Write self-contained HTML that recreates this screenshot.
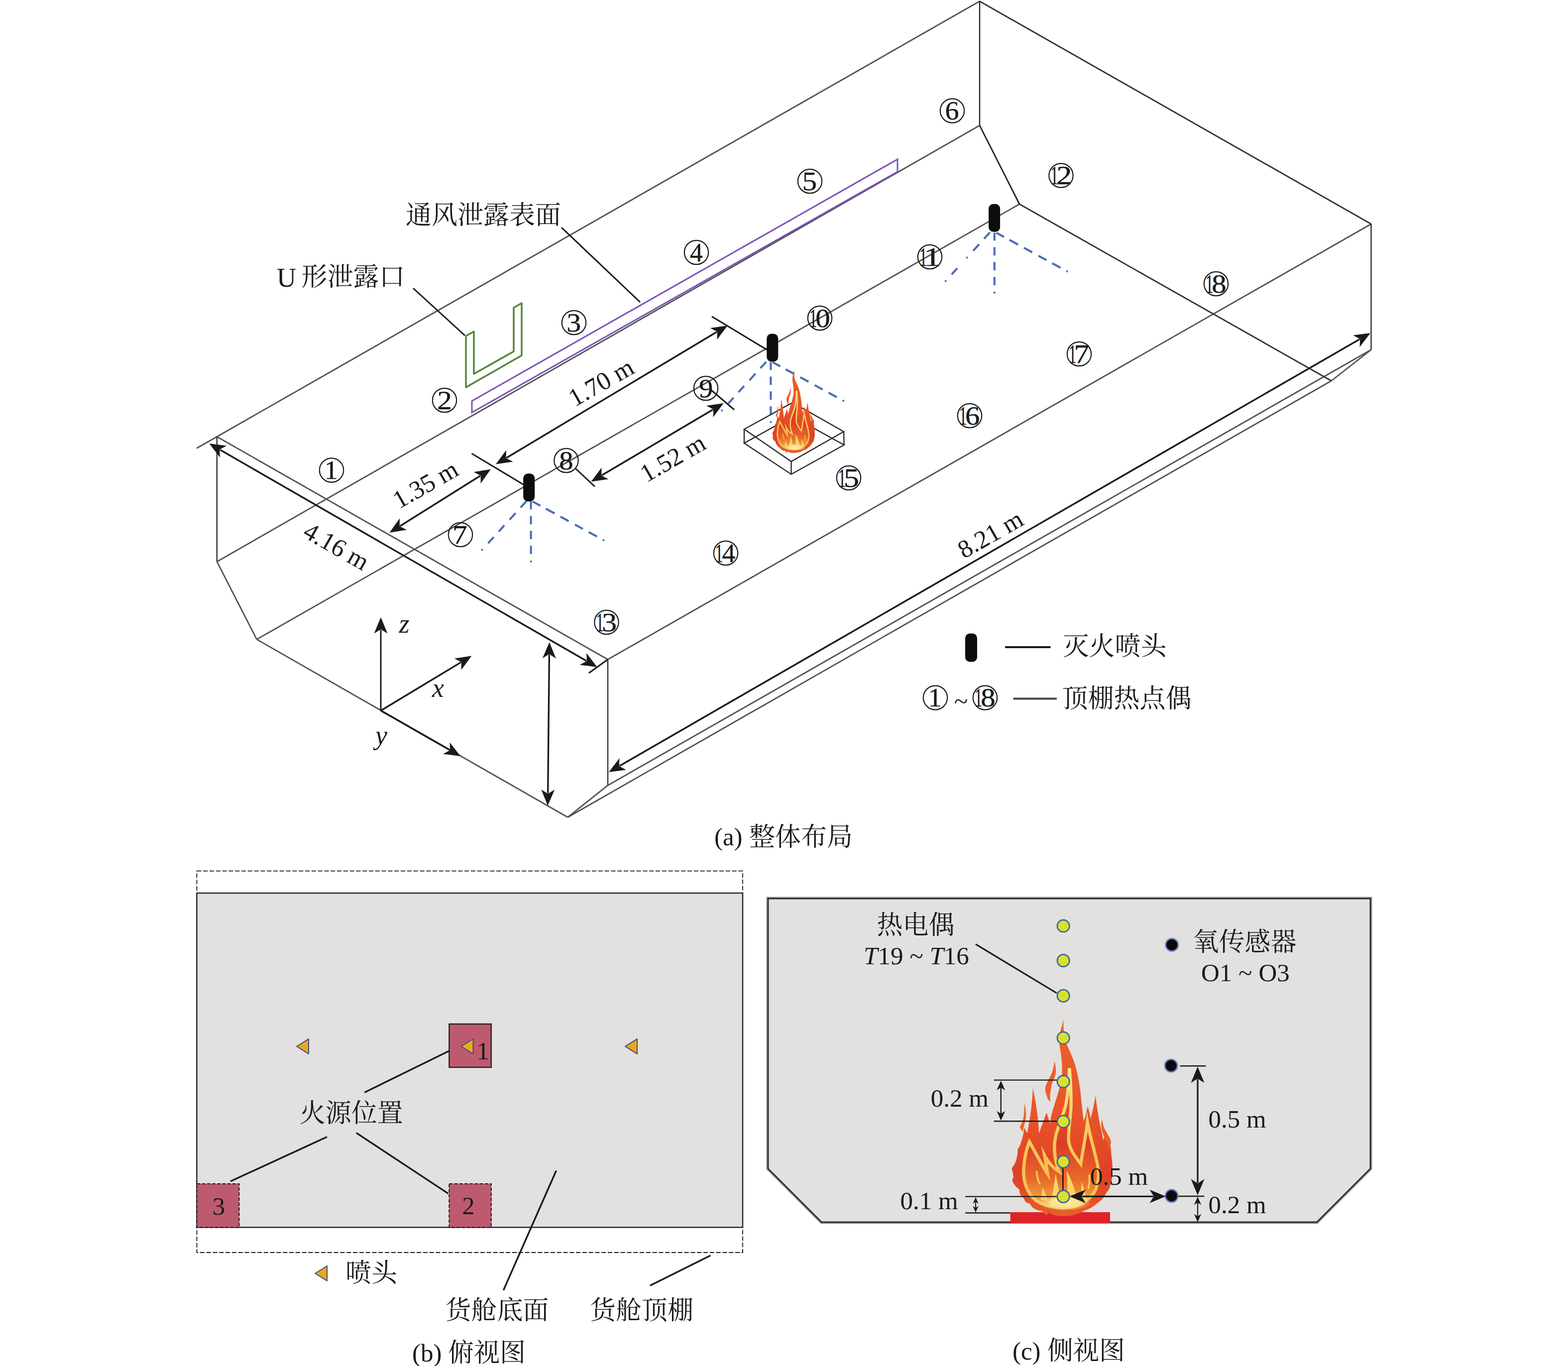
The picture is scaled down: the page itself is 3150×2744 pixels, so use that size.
<!DOCTYPE html><html><head><meta charset="utf-8"><title>fig</title><style>html,body{margin:0;padding:0;background:#fff}svg{display:block}text{font-family:"Liberation Serif",serif}text.cjk{font-family:"Liberation Serif","Noto Serif CJK SC",serif}</style></head><body>
<svg width="3150" height="2744" viewBox="0 0 3150 2744">
<defs><path id="ah" d="M0 0L-32.5 -13.5L-24 0L-32.5 13.5Z"/><path id="ahs" d="M0 0L-18 -8L-13 0L-18 8Z"/>
<linearGradient id="fg1" x1="0" y1="0" x2="0" y2="1"><stop offset="0" stop-color="#ee6228"/><stop offset="0.5" stop-color="#e85428"/><stop offset="0.8" stop-color="#dd4026"/><stop offset="1" stop-color="#e8602a"/></linearGradient>
<linearGradient id="fg2" x1="0" y1="0" x2="0" y2="1"><stop offset="0" stop-color="#e85a28"/><stop offset="0.55" stop-color="#dc3e26"/><stop offset="0.8" stop-color="#e86a2a"/><stop offset="1" stop-color="#f6b848"/></linearGradient>
<linearGradient id="fg4" x1="0" y1="0" x2="0" y2="1"><stop offset="0" stop-color="#f8e78c"/><stop offset="0.5" stop-color="#f6c858"/><stop offset="0.85" stop-color="#f5c050"/><stop offset="1" stop-color="#f7cf70"/></linearGradient>
<radialGradient id="fg3"><stop offset="0" stop-color="#fcf0a8"/><stop offset="0.55" stop-color="#fae48c" stop-opacity="0.95"/><stop offset="1" stop-color="#f7c860" stop-opacity="0"/></radialGradient>
<filter id="bl" x="-50%" y="-50%" width="200%" height="200%"><feGaussianBlur stdDeviation="1.2"/></filter><g id="flame">
<path fill="url(#fg1)" d="M612 100C598 165 572 225 577 300C590 375 603 450 598 540C590 625 560 705 535 790C520 830 510 880 503 925C495 890 488 865 476 838C462 880 440 940 418 1000C415 900 395 760 370 645C366 760 350 880 325 1000C318 985 310 970 302 955C300 1000 285 1050 268 1100C262 1108 256 1116 251 1124C252 1150 248 1176 242 1201C235 1230 220 1255 204 1273C212 1298 216 1322 218 1345C214 1352 211 1360 208 1368C220 1400 240 1425 266 1440C262 1470 275 1495 300 1508C305 1535 322 1548 347 1551C365 1590 400 1605 443 1608C452 1622 462 1632 475 1640C482 1632 488 1626 495 1622C530 1640 570 1648 610 1648C680 1648 735 1630 778 1603C815 1592 848 1572 874 1546C905 1528 930 1500 946 1464C965 1445 975 1420 979 1393C990 1362 995 1330 993 1297C994 1255 992 1212 984 1172C984 1135 980 1098 970 1058C962 1040 950 1025 938 1012C932 1025 926 1040 920 1052C912 990 895 940 888 890C878 830 868 770 860 702C850 770 838 830 822 885C818 855 810 820 798 788C790 835 782 870 768 905C762 860 756 800 749 740C742 650 728 560 700 460C680 400 650 340 625 280C612 240 606 150 612 100Z"/>
<path fill="#ec5f28" d="M539 434C552 480 555 530 539 566C520 600 512 630 515 642C508 670 505 690 505 709C506 725 507 740 508 752C490 740 482 725 481 709C470 690 466 665 467 642C475 610 490 585 500 566C515 540 525 515 529 494C534 470 538 450 539 434Z"/>
<path fill="#ec6428" d="M304 766C318 820 322 870 308 915C300 945 295 965 290 990C280 970 270 960 268 950C285 920 298 890 300 850C302 820 303 795 304 766Z"/>
<path fill="#e9602a" d="M912 885C915 925 925 950 931 962C945 990 960 1015 970 1034C982 1055 984 1075 979 1086C978 1110 972 1125 962 1140C966 1100 958 1075 940 1050C918 1015 905 965 905 925Z"/>
<path fill="url(#fg2)" stroke="url(#fg4)" stroke-width="25" stroke-linejoin="miter" stroke-miterlimit="9" d="M610 1582C500 1582 400 1550 350 1480C305 1410 292 1330 300 1260C305 1180 325 1110 343 1066C390 1150 440 1250 486 1318L462 1174C490 1230 540 1280 577 1300C545 1230 530 1130 545 1040C560 960 600 880 625 790C645 700 652 600 656 490C665 600 672 700 668 800C662 900 645 1000 650 1060C660 1130 700 1180 745 1240C760 1140 785 1020 797 915C812 1000 845 1110 868 1210C895 1310 890 1420 830 1490C770 1555 690 1582 610 1582Z"/>
<path fill="none" stroke="#f6c656" stroke-width="15" stroke-linejoin="round" stroke-linecap="round" d="M400 1300C402 1340 410 1370 425 1395M812 1330C815 1370 812 1400 805 1430"/>
<path fill="#f7d468" d="M505 1560C525 1470 540 1390 548 1312C562 1390 580 1470 596 1560ZM628 1560C645 1450 640 1365 634 1292C672 1360 705 1450 728 1560ZM740 1540C748 1470 752 1420 750 1380C770 1430 785 1480 792 1530ZM430 1520C440 1480 445 1450 443 1418C462 1455 476 1490 486 1530Z"/>
<ellipse cx="622" cy="1542" rx="205" ry="66" fill="url(#fg3)"/>
</g></defs>
<rect width="3150" height="2744" fill="#fff"/>
<g stroke-linecap="butt">
<line x1="395.0" y1="900.5" x2="1968.0" y2="2.5" stroke="#525252" stroke-width="2.80"/>
<line x1="435.8" y1="877.2" x2="1221.0" y2="1324.8" stroke="#525252" stroke-width="2.80"/>
<line x1="435.8" y1="877.2" x2="435.8" y2="1128.2" stroke="#3a3a3a" stroke-width="2.60"/>
<line x1="435.8" y1="1128.2" x2="515.8" y2="1284.4" stroke="#525252" stroke-width="2.80"/>
<line x1="515.8" y1="1284.4" x2="1140.6" y2="1641.7" stroke="#525252" stroke-width="2.80"/>
<line x1="1140.6" y1="1641.7" x2="1221.0" y2="1577.7" stroke="#525252" stroke-width="2.80"/>
<line x1="1221.0" y1="1324.8" x2="1221.0" y2="1577.7" stroke="#3a3a3a" stroke-width="2.60"/>
<line x1="435.8" y1="1128.2" x2="1968.0" y2="252.0" stroke="#525252" stroke-width="2.80"/>
<line x1="515.8" y1="1284.4" x2="2048.0" y2="410.0" stroke="#525252" stroke-width="2.80"/>
<line x1="1221.0" y1="1324.8" x2="2754.5" y2="450.0" stroke="#525252" stroke-width="2.80"/>
<line x1="1221.0" y1="1577.7" x2="2754.5" y2="702.5" stroke="#525252" stroke-width="2.80"/>
<line x1="1140.6" y1="1641.7" x2="2674.5" y2="765.0" stroke="#525252" stroke-width="2.80"/>
<line x1="1968.0" y1="2.5" x2="1968.0" y2="252.0" stroke="#222" stroke-width="2.40"/>
<line x1="1968.0" y1="252.0" x2="2048.0" y2="410.0" stroke="#222" stroke-width="2.80"/>
<line x1="2048.0" y1="410.0" x2="2674.5" y2="765.0" stroke="#333" stroke-width="2.80"/>
<line x1="2674.5" y1="765.0" x2="2754.5" y2="702.5" stroke="#525252" stroke-width="2.80"/>
<line x1="2754.5" y1="702.5" x2="2754.5" y2="450.0" stroke="#3a3a3a" stroke-width="2.60"/>
<line x1="1968.0" y1="2.5" x2="2754.5" y2="450.0" stroke="#333" stroke-width="2.80"/>
<line x1="1183.0" y1="1352.0" x2="1221.0" y2="1324.8" stroke="#1a1a1a" stroke-width="3.20"/>
</g>
<polygon points="948,805.5 1803,320 1803,345 948,828.5" fill="none" stroke="#7c52b6" stroke-width="3"/>
<polygon points="936,675 952,666 952,751 1032,706 1032,618 1048,609 1048,714 936,778" fill="none" stroke="#55853a" stroke-width="3.5" stroke-linejoin="round"/>
<line x1="442.1" y1="903.5" x2="1177.9" y2="1327.5" stroke="#1a1a1a" stroke-width="3.40"/>
<use href="#ah" fill="#1a1a1a" transform="translate(420.4 891.0) rotate(-150.05) scale(1.000)"/>
<use href="#ah" fill="#1a1a1a" transform="translate(1199.6 1340.0) rotate(29.95) scale(1.000)"/>
<line x1="1244.7" y1="1538.5" x2="2731.3" y2="681.5" stroke="#1a1a1a" stroke-width="3.40"/>
<use href="#ah" fill="#1a1a1a" transform="translate(1223.0 1551.0) rotate(150.04) scale(1.000)"/>
<use href="#ah" fill="#1a1a1a" transform="translate(2753.0 669.0) rotate(-29.96) scale(1.000)"/>
<line x1="1103.4" y1="1315.0" x2="1100.7" y2="1593.6" stroke="#1a1a1a" stroke-width="3.40"/>
<use href="#ah" fill="#1a1a1a" transform="translate(1103.7 1290.0) rotate(-89.42) scale(1.000)"/>
<use href="#ah" fill="#1a1a1a" transform="translate(1100.4 1618.6) rotate(90.58) scale(1.000)"/>
<line x1="803.7" y1="1056.7" x2="964.8" y2="955.8" stroke="#1a1a1a" stroke-width="3.40"/>
<use href="#ah" fill="#1a1a1a" transform="translate(782.5 1070.0) rotate(147.93) scale(1.000)"/>
<use href="#ah" fill="#1a1a1a" transform="translate(986.0 942.5) rotate(-32.07) scale(1.000)"/>
<line x1="1017.5" y1="919.7" x2="1440.0" y2="666.8" stroke="#1a1a1a" stroke-width="3.40"/>
<use href="#ah" fill="#1a1a1a" transform="translate(996.0 932.5) rotate(149.11) scale(1.000)"/>
<use href="#ah" fill="#1a1a1a" transform="translate(1461.5 654.0) rotate(-30.89) scale(1.000)"/>
<line x1="1209.0" y1="954.8" x2="1432.2" y2="822.7" stroke="#1a1a1a" stroke-width="3.40"/>
<use href="#ah" fill="#1a1a1a" transform="translate(1187.5 967.5) rotate(149.39) scale(1.000)"/>
<use href="#ah" fill="#1a1a1a" transform="translate(1453.7 810.0) rotate(-30.61) scale(1.000)"/>
<line x1="947.5" y1="911.0" x2="1062.5" y2="980.0" stroke="#1a1a1a" stroke-width="3.00"/>
<line x1="1430.0" y1="635.7" x2="1541.0" y2="702.7" stroke="#1a1a1a" stroke-width="3.00"/>
<line x1="1155.0" y1="940.0" x2="1195.0" y2="977.5" stroke="#1a1a1a" stroke-width="3.00"/>
<line x1="1428.0" y1="783.0" x2="1475.0" y2="823.0" stroke="#1a1a1a" stroke-width="3.00"/>
<line x1="765.0" y1="1427.5" x2="765.0" y2="1265.0" stroke="#1a1a1a" stroke-width="3.00"/>
<use href="#ah" fill="#1a1a1a" transform="translate(765.0 1240.0) rotate(-90.00) scale(1.000)"/>
<line x1="765.0" y1="1427.5" x2="926.1" y2="1330.4" stroke="#1a1a1a" stroke-width="3.40"/>
<use href="#ah" fill="#1a1a1a" transform="translate(947.5 1317.5) rotate(-31.08) scale(1.000)"/>
<line x1="765.0" y1="1427.5" x2="903.3" y2="1506.6" stroke="#1a1a1a" stroke-width="3.40"/>
<use href="#ah" fill="#1a1a1a" transform="translate(925.0 1519.0) rotate(29.76) scale(1.000)"/>
<text x="812.0" y="1271.0" font-size="54.0" font-style="italic" text-anchor="middle" fill="#1a1a1a">z</text>
<text x="880.0" y="1400.0" font-size="54.0" font-style="italic" text-anchor="middle" fill="#1a1a1a">x</text>
<text x="766.0" y="1495.0" font-size="54.0" font-style="italic" text-anchor="middle" fill="#1a1a1a">y</text>
<path d="M1057.4 1006.9L1045.7 1019.7M1035.8 1030.6L1023.8 1043.8M1013.1 1055.5L1001.8 1067.9M991.8 1078.9L980.5 1091.4M1070.2 1007.5L1085.6 1015.9M1096.6 1021.9L1114.1 1031.4M1125.8 1037.8L1142.5 1046.9M1154.9 1053.7L1171.0 1062.5M1182.6 1068.8L1199.3 1077.9M1066.6 1007.3L1066.6 1023.3M1066.6 1036.4L1066.6 1053.2M1066.6 1066.3L1066.6 1083.1M1066.6 1096.2L1066.6 1113.0" stroke="#4a6cb8" stroke-width="4.1" fill="none"/>
<rect x="966.7" y="1102.7" width="3.6" height="3.6" fill="#4a6cb8"/>
<rect x="1210.7" y="1083.3" width="3.6" height="3.6" fill="#4a6cb8"/>
<rect x="1064.8" y="1126.0" width="3.6" height="3.6" fill="#4a6cb8"/>
<path d="M1539.2 726.9L1527.5 739.7M1517.6 750.6L1505.6 763.8M1494.9 775.5L1483.6 787.9M1473.6 798.9L1462.3 811.4M1552.0 727.5L1567.4 735.9M1578.4 741.9L1595.9 751.4M1607.6 757.8L1624.3 766.9M1636.7 773.7L1652.8 782.5M1664.4 788.8L1681.1 797.9M1548.4 727.3L1548.4 743.3M1548.4 756.4L1548.4 773.2M1548.4 786.3L1548.4 803.1M1548.4 816.2L1548.4 833.0" stroke="#4a6cb8" stroke-width="4.1" fill="none"/>
<rect x="1448.5" y="822.7" width="3.6" height="3.6" fill="#4a6cb8"/>
<rect x="1692.5" y="803.3" width="3.6" height="3.6" fill="#4a6cb8"/>
<rect x="1546.6" y="846.0" width="3.6" height="3.6" fill="#4a6cb8"/>
<path d="M1988.6 466.9L1976.9 479.7M1967.0 490.6L1955.0 503.8M1923.0 538.9L1911.7 551.4M2001.4 467.5L2016.8 475.9M2027.8 481.9L2045.3 491.4M2057.0 497.8L2073.7 506.9M2086.1 513.7L2102.2 522.5M2113.8 528.8L2130.5 537.9M1997.8 467.3L1997.8 483.3M1997.8 496.4L1997.8 513.2M1997.8 526.3L1997.8 543.1M1997.8 556.2L1997.8 573.0" stroke="#4a6cb8" stroke-width="4.1" fill="none"/>
<rect x="1940.7" y="515.7" width="3.6" height="3.6" fill="#4a6cb8"/>
<rect x="1897.9" y="562.7" width="3.6" height="3.6" fill="#4a6cb8"/>
<rect x="2141.9" y="543.3" width="3.6" height="3.6" fill="#4a6cb8"/>
<rect x="1996.0" y="586.0" width="3.6" height="3.6" fill="#4a6cb8"/>
<g stroke="#2a2a2a" stroke-width="2.4" fill="none">
<polygon points="1495.0,862.3 1589.5,927.0 1695.0,867.0 1592.0,808.7"/>
<polygon points="1495.0,890.2 1589.5,952.7 1695.6,893.7 1592.0,836.6"/>
<line x1="1495.0" y1="862.3" x2="1495.0" y2="890.2"/>
<line x1="1589.5" y1="927.0" x2="1589.5" y2="952.7"/>
<line x1="1695.0" y1="867.0" x2="1695.6" y2="893.7"/>
</g>
<g transform="translate(1529.37 731.73) scale(0.10816)"><use href="#flame"/></g>
<rect x="1051.2" y="951.2" width="23.0" height="56.0" rx="9.5" fill="#0d0d0d"/>
<rect x="1540.3" y="670.5" width="23.0" height="56.0" rx="9.5" fill="#0d0d0d"/>
<rect x="1986.1" y="409.8" width="23.0" height="56.0" rx="9.5" fill="#0d0d0d"/>
<rect x="1939.0" y="1272.5" width="24.0" height="57.0" rx="9.5" fill="#0d0d0d"/>
<circle cx="666.0" cy="944.5" r="24.2" fill="none" stroke="#1a1a1a" stroke-width="2.2"/>
<text font-size="52" fill="#1a1a1a" stroke="#1a1a1a" stroke-width="0.4" transform="translate(651.75 962.0) scale(1.038 1)">1</text>
<circle cx="893.0" cy="804.0" r="24.2" fill="none" stroke="#1a1a1a" stroke-width="2.2"/>
<text font-size="52" fill="#1a1a1a" stroke="#1a1a1a" stroke-width="0.4" transform="translate(878.37 821.5) scale(1.151 1)">2</text>
<circle cx="1153.0" cy="648.0" r="24.2" fill="none" stroke="#1a1a1a" stroke-width="2.2"/>
<text font-size="52" fill="#1a1a1a" stroke="#1a1a1a" stroke-width="0.4" transform="translate(1138.21 665.5) scale(1.118 1)">3</text>
<circle cx="1399.0" cy="507.0" r="24.2" fill="none" stroke="#1a1a1a" stroke-width="2.2"/>
<text font-size="52" fill="#1a1a1a" stroke="#1a1a1a" stroke-width="0.4" transform="translate(1385.97 524.5) scale(0.995 1)">4</text>
<circle cx="1627.0" cy="364.0" r="24.2" fill="none" stroke="#1a1a1a" stroke-width="2.2"/>
<text font-size="52" fill="#1a1a1a" stroke="#1a1a1a" stroke-width="0.4" transform="translate(1611.55 381.5) scale(1.145 1)">5</text>
<circle cx="1913.0" cy="222.5" r="24.2" fill="none" stroke="#1a1a1a" stroke-width="2.2"/>
<text font-size="52" fill="#1a1a1a" stroke="#1a1a1a" stroke-width="0.4" transform="translate(1898.58 240.0) scale(1.081 1)">6</text>
<circle cx="925.0" cy="1074.0" r="24.2" fill="none" stroke="#1a1a1a" stroke-width="2.2"/>
<text font-size="52" fill="#1a1a1a" stroke="#1a1a1a" stroke-width="0.4" transform="translate(909.09 1091.5) scale(1.140 1)">7</text>
<circle cx="1137.5" cy="925.0" r="24.2" fill="none" stroke="#1a1a1a" stroke-width="2.2"/>
<text font-size="52" fill="#1a1a1a" stroke="#1a1a1a" stroke-width="0.4" transform="translate(1123.35 942.5) scale(1.089 1)">8</text>
<circle cx="1418.0" cy="780.0" r="24.2" fill="none" stroke="#1a1a1a" stroke-width="2.2"/>
<text font-size="52" fill="#1a1a1a" stroke="#1a1a1a" stroke-width="0.4" transform="translate(1404.20 797.5) scale(1.081 1)">9</text>
<circle cx="1647.0" cy="639.0" r="24.2" fill="none" stroke="#1a1a1a" stroke-width="2.2"/>
<text font-size="52" fill="#1a1a1a" stroke="#1a1a1a" stroke-width="0.4" transform="translate(1625.75 656.5) scale(0.601 1)">1</text>
<text font-size="52" fill="#1a1a1a" stroke="#1a1a1a" stroke-width="0.4" transform="translate(1638.26 656.5) scale(1.134 1)">0</text>
<circle cx="1868.0" cy="516.0" r="24.2" fill="none" stroke="#1a1a1a" stroke-width="2.2"/>
<text font-size="52" fill="#1a1a1a" stroke="#1a1a1a" stroke-width="0.4" transform="translate(1846.75 533.5) scale(0.601 1)">1</text>
<text font-size="52" fill="#1a1a1a" stroke="#1a1a1a" stroke-width="0.4" transform="translate(1855.25 533.5) scale(1.366 1)">1</text>
<circle cx="2131.5" cy="352.5" r="24.2" fill="none" stroke="#1a1a1a" stroke-width="2.2"/>
<text font-size="52" fill="#1a1a1a" stroke="#1a1a1a" stroke-width="0.4" transform="translate(2110.25 370.0) scale(0.601 1)">1</text>
<text font-size="52" fill="#1a1a1a" stroke="#1a1a1a" stroke-width="0.4" transform="translate(2122.26 370.0) scale(1.199 1)">2</text>
<circle cx="1218.5" cy="1250.0" r="24.2" fill="none" stroke="#1a1a1a" stroke-width="2.2"/>
<text font-size="52" fill="#1a1a1a" stroke="#1a1a1a" stroke-width="0.4" transform="translate(1197.25 1267.5) scale(0.601 1)">1</text>
<text font-size="52" fill="#1a1a1a" stroke="#1a1a1a" stroke-width="0.4" transform="translate(1209.09 1267.5) scale(1.164 1)">3</text>
<circle cx="1458.0" cy="1111.0" r="24.2" fill="none" stroke="#1a1a1a" stroke-width="2.2"/>
<text font-size="52" fill="#1a1a1a" stroke="#1a1a1a" stroke-width="0.4" transform="translate(1436.75 1128.5) scale(0.601 1)">1</text>
<text font-size="52" fill="#1a1a1a" stroke="#1a1a1a" stroke-width="0.4" transform="translate(1450.42 1128.5) scale(1.036 1)">4</text>
<circle cx="1705.0" cy="960.0" r="24.2" fill="none" stroke="#1a1a1a" stroke-width="2.2"/>
<text font-size="52" fill="#1a1a1a" stroke="#1a1a1a" stroke-width="0.4" transform="translate(1683.75 977.5) scale(0.601 1)">1</text>
<text font-size="52" fill="#1a1a1a" stroke="#1a1a1a" stroke-width="0.4" transform="translate(1694.90 977.5) scale(1.193 1)">5</text>
<circle cx="1948.0" cy="835.0" r="24.2" fill="none" stroke="#1a1a1a" stroke-width="2.2"/>
<text font-size="52" fill="#1a1a1a" stroke="#1a1a1a" stroke-width="0.4" transform="translate(1926.75 852.5) scale(0.601 1)">1</text>
<text font-size="52" fill="#1a1a1a" stroke="#1a1a1a" stroke-width="0.4" transform="translate(1938.98 852.5) scale(1.126 1)">6</text>
<circle cx="2168.0" cy="711.0" r="24.2" fill="none" stroke="#1a1a1a" stroke-width="2.2"/>
<text font-size="52" fill="#1a1a1a" stroke="#1a1a1a" stroke-width="0.4" transform="translate(2146.75 728.5) scale(0.601 1)">1</text>
<text font-size="52" fill="#1a1a1a" stroke="#1a1a1a" stroke-width="0.4" transform="translate(2157.43 728.5) scale(1.187 1)">7</text>
<circle cx="2443.0" cy="570.0" r="24.2" fill="none" stroke="#1a1a1a" stroke-width="2.2"/>
<text font-size="52" fill="#1a1a1a" stroke="#1a1a1a" stroke-width="0.4" transform="translate(2421.75 587.5) scale(0.601 1)">1</text>
<text font-size="52" fill="#1a1a1a" stroke="#1a1a1a" stroke-width="0.4" transform="translate(2434.26 587.5) scale(1.134 1)">8</text>
<text x="667.5" y="1112.0" font-size="51.0" text-anchor="middle" fill="#1a1a1a" transform="rotate(29.70 667.5 1112.0)">4.16 m</text>
<text x="863.0" y="988.0" font-size="51.0" text-anchor="middle" fill="#1a1a1a" transform="rotate(-29.70 863.0 988.0)">1.35 m</text>
<text x="1216.0" y="783.0" font-size="51.0" text-anchor="middle" fill="#1a1a1a" transform="rotate(-29.70 1216.0 783.0)">1.70 m</text>
<text x="1360.0" y="935.0" font-size="51.0" text-anchor="middle" fill="#1a1a1a" transform="rotate(-29.70 1360.0 935.0)">1.52 m</text>
<text x="1998.0" y="1088.0" font-size="51.0" text-anchor="middle" fill="#1a1a1a" transform="rotate(-29.70 1998.0 1088.0)">8.21 m</text>
<text class="cjk" x="815.0" y="450.0" font-size="52" text-anchor="start" fill="#1a1a1a">通风泄露表面</text>
<line x1="1128.0" y1="457.0" x2="1286.0" y2="607.0" stroke="#1a1a1a" stroke-width="3.00"/>
<text x="556.0" y="576.0" font-size="54.0" text-anchor="start" fill="#1a1a1a">U</text>
<text class="cjk" x="605.5" y="574.0" font-size="52" text-anchor="start" fill="#1a1a1a">形泄露口</text>
<line x1="830.0" y1="579.0" x2="934.0" y2="674.0" stroke="#1a1a1a" stroke-width="3.00"/>
<line x1="2019.0" y1="1300.0" x2="2110.5" y2="1300.0" stroke="#1a1a1a" stroke-width="4.00"/>
<text class="cjk" x="2135.5" y="1316.0" font-size="52" text-anchor="start" fill="#1a1a1a">灭火喷头</text>
<circle cx="1879.0" cy="1401.5" r="24.2" fill="none" stroke="#1a1a1a" stroke-width="2.2"/>
<text font-size="52" fill="#1a1a1a" stroke="#1a1a1a" stroke-width="0.4" transform="translate(1864.75 1419.0) scale(1.038 1)">1</text>
<text x="1930.5" y="1425.0" font-size="51.0" text-anchor="middle" fill="#1a1a1a">~</text>
<circle cx="1979.0" cy="1401.5" r="24.2" fill="none" stroke="#1a1a1a" stroke-width="2.2"/>
<text font-size="52" fill="#1a1a1a" stroke="#1a1a1a" stroke-width="0.4" transform="translate(1957.75 1419.0) scale(0.601 1)">1</text>
<text font-size="52" fill="#1a1a1a" stroke="#1a1a1a" stroke-width="0.4" transform="translate(1970.26 1419.0) scale(1.134 1)">8</text>
<line x1="2035.5" y1="1403.5" x2="2123.0" y2="1403.5" stroke="#444" stroke-width="4.00"/>
<text class="cjk" x="2133.5" y="1421.0" font-size="52" text-anchor="start" fill="#1a1a1a">顶棚热点偶</text>
<text x="1435.0" y="1698.0" font-size="51.0" text-anchor="start" fill="#1a1a1a">(a)</text>
<text class="cjk" x="1505.0" y="1699.0" font-size="52" text-anchor="start" fill="#1a1a1a">整体布局</text>
<rect x="395.4" y="1749.7" width="1096.6" height="766.3" fill="none" stroke="#1a1a1a" stroke-width="1.8" stroke-dasharray="9.1 3.7"/>
<rect x="395.4" y="1794" width="1096.6" height="671.5" fill="#e2e0e0" stroke="#222" stroke-width="2.4"/>
<rect x="902.4" y="2057" width="84.4" height="87" fill="#bd5a70" stroke="#222" stroke-width="2.4"/>
<rect x="902.4" y="2378" width="84.4" height="87.5" fill="#bd5a70" stroke="#1a1a1a" stroke-width="2" stroke-dasharray="7 3.2"/>
<rect x="395.4" y="2378" width="85" height="87.5" fill="#bd5a70" stroke="#1a1a1a" stroke-width="2" stroke-dasharray="7 3.2"/>
<polygon points="596.0,2102.0 620.0,2087.0 620.0,2117.0" fill="#e8a81e" stroke="#3a4a80" stroke-width="2" stroke-linejoin="round"/>
<polygon points="926.5,2102.0 950.5,2087.0 950.5,2117.0" fill="#e8a81e" stroke="#3a4a80" stroke-width="2" stroke-linejoin="round"/>
<polygon points="1256.0,2102.0 1280.0,2087.0 1280.0,2117.0" fill="#e8a81e" stroke="#3a4a80" stroke-width="2" stroke-linejoin="round"/>
<polygon points="633.0,2558.0 657.0,2543.0 657.0,2573.0" fill="#e8a81e" stroke="#3a4a80" stroke-width="2" stroke-linejoin="round"/>
<text x="970.2" y="2128.0" font-size="51.0" text-anchor="middle" fill="#1a1a1a">1</text>
<text x="439.4" y="2440.0" font-size="51.0" text-anchor="middle" fill="#1a1a1a">3</text>
<text x="941.0" y="2439.0" font-size="51.0" text-anchor="middle" fill="#1a1a1a">2</text>
<text class="cjk" x="601.8" y="2254.0" font-size="52" text-anchor="start" fill="#1a1a1a">火源位置</text>
<line x1="902.4" y1="2111.0" x2="732.4" y2="2194.5" stroke="#1a1a1a" stroke-width="3.40"/>
<line x1="657.0" y1="2283.7" x2="463.0" y2="2373.0" stroke="#1a1a1a" stroke-width="3.40"/>
<line x1="715.7" y1="2275.7" x2="900.5" y2="2397.7" stroke="#1a1a1a" stroke-width="3.40"/>
<line x1="1117.4" y1="2351.5" x2="1011.4" y2="2591.8" stroke="#1a1a1a" stroke-width="3.40"/>
<line x1="1427.3" y1="2522.0" x2="1305.9" y2="2582.5" stroke="#1a1a1a" stroke-width="3.40"/>
<text class="cjk" x="694.0" y="2575.0" font-size="52" text-anchor="start" fill="#1a1a1a">喷头</text>
<text class="cjk" x="894.5" y="2650.0" font-size="52" text-anchor="start" fill="#1a1a1a">货舱底面</text>
<text class="cjk" x="1185.0" y="2650.0" font-size="52" text-anchor="start" fill="#1a1a1a">货舱顶棚</text>
<text x="828.0" y="2735.0" font-size="51.0" text-anchor="start" fill="#1a1a1a">(b)</text>
<text class="cjk" x="900.0" y="2735.0" font-size="52" text-anchor="start" fill="#1a1a1a">俯视图</text>
<polygon points="1543,1805 2753,1805 2753,2347.5 2645.5,2455 1650.4,2455 1543,2347.5" fill="none" stroke="#9a9a9a" stroke-width="7"/>
<polygon points="1543,1805 2753,1805 2753,2347.5 2645.5,2455 1650.4,2455 1543,2347.5" fill="#e3e1e0" stroke="#2e2e2e" stroke-width="3" stroke-linejoin="miter"/>
<rect x="2029.6" y="2435" width="200.4" height="22" fill="#df2428"/>
<g transform="translate(1980 2020) scale(0.2566)"><use href="#flame"/></g>
<line x1="1996.7" y1="2169.6" x2="2124.0" y2="2169.6" stroke="#1a1a1a" stroke-width="2.40"/>
<line x1="1996.7" y1="2252.2" x2="2124.0" y2="2252.2" stroke="#1a1a1a" stroke-width="2.40"/>
<line x1="2010.8" y1="2184.7" x2="2010.8" y2="2237.3" stroke="#1a1a1a" stroke-width="2.40"/>
<use href="#ahs" fill="#1a1a1a" transform="translate(2010.8 2171.0) rotate(-90.00) scale(1.050)"/>
<use href="#ahs" fill="#1a1a1a" transform="translate(2010.8 2251.0) rotate(90.00) scale(1.050)"/>
<line x1="2135.4" y1="2346.0" x2="2135.4" y2="2391.0" stroke="#1a1a1a" stroke-width="2.60"/>
<line x1="1939.2" y1="2403.6" x2="2123.0" y2="2403.6" stroke="#1a1a1a" stroke-width="2.40"/>
<line x1="1939.2" y1="2436.5" x2="2029.6" y2="2436.5" stroke="#1a1a1a" stroke-width="2.40"/>
<line x1="1960.0" y1="2414.4" x2="1960.0" y2="2426.1" stroke="#1a1a1a" stroke-width="2.00"/>
<use href="#ahs" fill="#1a1a1a" transform="translate(1960.0 2405.0) rotate(-90.00) scale(0.720)"/>
<use href="#ahs" fill="#1a1a1a" transform="translate(1960.0 2435.5) rotate(90.00) scale(0.720)"/>
<line x1="2173.5" y1="2403.3" x2="2317.0" y2="2403.3" stroke="#1a1a1a" stroke-width="3.20"/>
<use href="#ah" fill="#1a1a1a" transform="translate(2148.5 2403.3) rotate(180.00) scale(1.000)"/>
<use href="#ah" fill="#1a1a1a" transform="translate(2342.0 2403.3) rotate(0.00) scale(1.000)"/>
<circle cx="2136.2" cy="1860.0" r="12.2" fill="#d8e22c" stroke="#44649f" stroke-width="2.8"/>
<circle cx="2136.2" cy="1929.6" r="12.2" fill="#d8e22c" stroke="#44649f" stroke-width="2.8"/>
<circle cx="2136.2" cy="2000.4" r="12.2" fill="#d8e22c" stroke="#44649f" stroke-width="2.8"/>
<circle cx="2136.2" cy="2085.0" r="12.2" fill="#d8e22c" stroke="#44649f" stroke-width="2.8"/>
<circle cx="2136.2" cy="2172.7" r="12.2" fill="#d8e22c" stroke="#44649f" stroke-width="2.8"/>
<circle cx="2136.2" cy="2253.0" r="12.2" fill="#d8e22c" stroke="#44649f" stroke-width="2.8"/>
<circle cx="2136.2" cy="2333.6" r="12.2" fill="#d8e22c" stroke="#44649f" stroke-width="2.8"/>
<circle cx="2136.2" cy="2403.6" r="12.2" fill="#d8e22c" stroke="#44649f" stroke-width="2.8"/>
<circle cx="2354.3" cy="1898.0" r="13.2" fill="#1f3a8c" opacity="0.9" filter="url(#bl)"/>
<circle cx="2354.3" cy="1898.0" r="10.6" fill="#0a0a0a"/>
<circle cx="2352.6" cy="2140.7" r="13.2" fill="#1f3a8c" opacity="0.9" filter="url(#bl)"/>
<circle cx="2352.6" cy="2140.7" r="10.6" fill="#0a0a0a"/>
<circle cx="2353.7" cy="2402.3" r="13.2" fill="#1f3a8c" opacity="0.9" filter="url(#bl)"/>
<circle cx="2353.7" cy="2402.3" r="10.6" fill="#0a0a0a"/>
<line x1="2370.6" y1="2141.3" x2="2422.3" y2="2141.3" stroke="#1a1a1a" stroke-width="2.60"/>
<line x1="2367.7" y1="2403.0" x2="2419.4" y2="2403.0" stroke="#1a1a1a" stroke-width="2.60"/>
<line x1="2406.0" y1="2167.7" x2="2406.0" y2="2376.0" stroke="#1a1a1a" stroke-width="3.20"/>
<use href="#ah" fill="#1a1a1a" transform="translate(2406.0 2142.7) rotate(-90.00) scale(1.000)"/>
<use href="#ah" fill="#1a1a1a" transform="translate(2406.0 2401.0) rotate(90.00) scale(1.000)"/>
<line x1="2406.0" y1="2415.7" x2="2406.0" y2="2443.3" stroke="#1a1a1a" stroke-width="2.20"/>
<use href="#ahs" fill="#1a1a1a" transform="translate(2406.0 2404.0) rotate(-90.00) scale(0.900)"/>
<use href="#ahs" fill="#1a1a1a" transform="translate(2406.0 2455.0) rotate(90.00) scale(0.900)"/>
<text x="2427.5" y="2264.7" font-size="51.0" text-anchor="start" fill="#1a1a1a">0.5 m</text>
<text x="2427.5" y="2436.5" font-size="51.0" text-anchor="start" fill="#1a1a1a">0.2 m</text>
<text x="2190.0" y="2379.6" font-size="51.0" text-anchor="start" fill="#1a1a1a">0.5 m</text>
<text x="1808.4" y="2428.9" font-size="51.0" text-anchor="start" fill="#1a1a1a">0.1 m</text>
<text x="1869.7" y="2223.4" font-size="51.0" text-anchor="start" fill="#1a1a1a">0.2 m</text>
<text class="cjk" x="1761.5" y="1876.0" font-size="52" text-anchor="start" fill="#1a1a1a">热电偶</text>
<text x="1735" y="1937.2" font-size="51" fill="#1a1a1a"><tspan font-style="italic">T</tspan>19 ~ <tspan font-style="italic">T</tspan>16</text>
<line x1="1960.0" y1="1896.7" x2="2123.0" y2="1995.0" stroke="#1a1a1a" stroke-width="3.20"/>
<text class="cjk" x="2396.6" y="1910.0" font-size="52" text-anchor="start" fill="#1a1a1a">氧传感器</text>
<text x="2413.0" y="1970.7" font-size="51.0" text-anchor="start" fill="#1a1a1a">O1 ~ O3</text>
<text x="2034.0" y="2731.0" font-size="51.0" text-anchor="start" fill="#1a1a1a">(c)</text>
<text class="cjk" x="2104.0" y="2731.0" font-size="52" text-anchor="start" fill="#1a1a1a">侧视图</text>
</svg></body></html>
